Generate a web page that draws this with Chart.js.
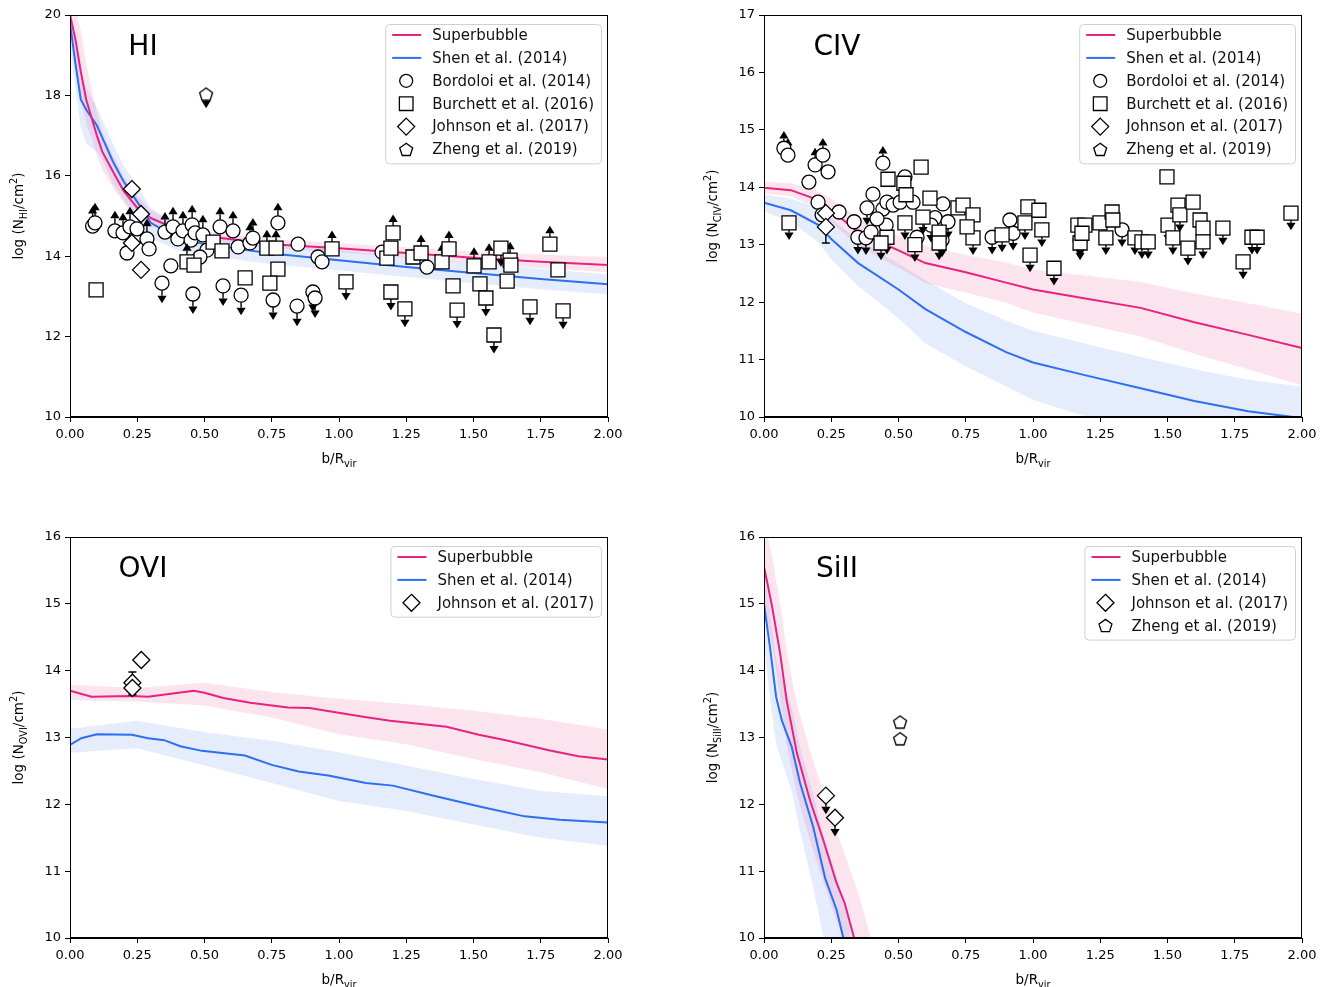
<!DOCTYPE html>
<html><head><meta charset="utf-8">
<script src="https://cdn.jsdelivr.net/npm/chart.js@4.4.1/dist/chart.umd.min.js"></script>
<style>
html,body{margin:0;padding:0;background:#fff;overflow:hidden}
body{width:1322px;height:987px;position:relative}
canvas{position:absolute}
</style></head>
<body>
<canvas id="cHI" width="640" height="480" style="left:0;top:0"></canvas>
<canvas id="cCIV" width="628" height="480" style="left:694px;top:0"></canvas>
<canvas id="cOVI" width="640" height="465" style="left:0;top:522px"></canvas>
<canvas id="cSiII" width="628" height="465" style="left:694px;top:522px"></canvas>
<script>
// ================= DATA =================
const xTickValues = [0, 0.25, 0.5, 0.75, 1.0, 1.25, 1.5, 1.75, 2.0];
const labelSB = 'Superbubble';
const labelShen = 'Shen et al. (2014)';
const labelBord = 'Bordoloi et al. (2014)';
const labelBurch = 'Burchett et al. (2016)';
const labelJohn = 'Johnson et al. (2017)';
const labelZheng = 'Zheng et al. (2019)';

// ---- HI ----
const HI_modelX = [0,0.02,0.04,0.06,0.08,0.1,0.12,0.16,0.2,0.25,0.3,0.4,0.5,0.75,1.0,1.25,1.5,1.75,2.0];
const HI_sbY  = [20.0,19.4,18.6,17.9,17.45,17.0,16.6,16.1,15.62,15.2,14.95,14.66,14.5,14.3,14.2,14.08,13.96,13.86,13.78];
const HI_sbHi = [20.5,20.2,19.6,18.8,18.15,17.6,17.1,16.5,15.97,15.5,15.15,14.81,14.62,14.42,14.32,14.22,14.12,14.04,13.98];
const HI_sbLo = [19.7,18.8,17.9,17.3,16.95,16.5,16.15,15.7,15.32,14.95,14.75,14.54,14.4,14.2,14.1,13.96,13.82,13.7,13.6];
const HI_shY  = [19.8,18.8,17.9,17.65,17.45,17.25,16.95,16.35,15.85,15.35,14.83,14.45,14.3,14.07,13.9,13.73,13.58,13.43,13.3];
const HI_shHi = [20.3,19.4,18.5,18.2,17.95,17.7,17.4,16.8,16.25,15.75,15.2,14.75,14.58,14.33,14.15,13.98,13.83,13.68,13.55];
const HI_shLo = [19.2,18.2,17.2,16.8,16.7,16.6,16.4,15.8,15.4,14.9,14.45,14.15,14.02,13.8,13.65,13.48,13.33,13.18,13.05];

const HI_bordX = [0.084,0.093,0.167,0.197,0.223,0.249,0.212,0.286,0.294,0.353,0.383,0.401,0.420,0.450,0.454,0.465,0.494,0.509,0.558,0.606,0.625,0.669,0.680,0.375,0.342,0.457,0.569,0.636,0.483,0.773,0.848,0.922,0.937,1.160,0.755,0.844,0.903,0.911,1.327];
const HI_bordY = [14.75,14.83,14.63,14.58,14.73,14.68,14.08,14.43,14.18,14.60,14.73,14.43,14.63,14.40,14.78,14.58,14.53,14.15,14.73,14.63,14.23,14.33,14.45,13.76,13.33,13.06,13.26,13.03,13.98,14.83,14.30,13.98,13.86,14.10,12.91,12.76,13.11,12.96,13.73];
const HI_bordLim = [1,1,1,1,1,0,0,1,0,1,1,0,1,1,1,0,1,0,1,1,0,1,1,0,-1,-1,-1,-1,0,1,0,0,0,0,-1,-1,-1,-1,0];

const HI_burchX = [0.097,0.532,0.565,0.435,0.461,0.651,0.732,0.766,0.773,0.743,0.974,1.026,1.178,1.201,1.193,1.193,1.245,1.275,1.305,1.383,1.409,1.424,1.439,1.502,1.524,1.546,1.558,1.602,1.636,1.639,1.625,1.576,1.710,1.784,1.814,1.833];
const HI_burchY = [13.16,14.35,14.13,13.86,13.78,13.46,14.20,14.20,13.68,13.33,14.18,13.36,13.95,14.58,14.20,13.11,12.69,13.98,14.08,13.86,14.18,13.26,12.66,13.76,13.31,12.96,13.86,14.20,13.90,13.78,13.38,12.04,12.74,14.30,13.66,12.64];
const HI_burchLim = [0,0,0,1,0,0,1,1,0,0,1,-1,0,1,0,-1,-1,0,1,1,1,0,-1,1,0,-1,1,-1,1,0,0,-1,-1,1,0,-1];

const HI_johnX = [0.230,0.264,0.230,0.264];
const HI_johnY = [15.67,15.05,14.33,13.66];
const HI_zhengX = [0.506];
const HI_zhengY = [18.03];
const HI_zhengLim = [-1];

// ---- CIV ----
const CIV_modelX = [0,0.1,0.2,0.25,0.35,0.5,0.6,0.75,0.9,1.0,1.2,1.4,1.6,1.8,2.0];
const CIV_sbY  = [13.99,13.95,13.78,13.6,13.22,12.9,12.68,12.52,12.34,12.22,12.06,11.9,11.65,11.43,11.2];
const CIV_sbHi = [14.09,14.07,13.93,13.8,13.47,13.15,12.98,12.82,12.69,12.57,12.46,12.35,12.15,11.98,11.8];
const CIV_sbLo = [13.89,13.85,13.63,13.4,12.97,12.6,12.33,12.17,11.99,11.82,11.61,11.4,11.1,10.83,10.55];
const CIV_shY  = [13.73,13.6,13.35,13.1,12.68,12.22,11.88,11.48,11.13,10.95,10.72,10.5,10.28,10.1,9.98];
const CIV_shHi = [13.88,13.8,13.65,13.45,13.08,12.67,12.38,11.98,11.68,11.5,11.27,11.05,10.83,10.65,10.53];
const CIV_shLo = [13.58,13.4,13.05,12.75,12.28,11.72,11.28,10.88,10.53,10.3,10.0,9.8,9.6,9.4,9.3];

const CIV_bordX = [0.074,0.089,0.167,0.190,0.219,0.238,0.201,0.216,0.279,0.335,0.349,0.379,0.398,0.405,0.383,0.442,0.442,0.457,0.454,0.480,0.506,0.524,0.554,0.569,0.636,0.665,0.684,0.621,0.848,0.914,0.926,1.331,1.175,0.662,0.420];
const CIV_bordY = [14.68,14.56,14.09,14.39,14.56,14.27,13.74,13.52,13.57,13.40,13.13,13.12,13.22,13.88,13.64,14.42,13.62,13.74,13.34,13.69,13.74,14.18,13.74,13.13,13.47,13.71,13.40,13.34,13.13,13.43,13.20,13.26,13.08,13.08,13.45];
const CIV_bordLim = [1,1,0,1,1,0,0,0,0,0,-1,-1,0,0,-1,1,0,0,0,0,0,0,0,0,0,0,-1,-1,-1,0,-1,-1,-1,-1,0];

const CIV_burchX = [0.093,0.461,0.520,0.528,0.584,0.617,0.591,0.524,0.457,0.435,0.561,0.651,0.651,0.721,0.740,0.777,0.777,0.755,0.885,0.970,0.981,1.022,1.033,0.989,1.078,1.167,1.193,1.175,1.182,1.249,1.294,1.297,1.271,1.379,1.405,1.428,1.502,1.520,1.498,1.539,1.546,1.595,1.621,1.632,1.632,1.576,1.706,1.814,1.833,1.781,1.959];
const CIV_burchY = [13.38,14.14,14.07,13.87,14.35,13.81,13.48,13.38,13.13,13.03,13.00,13.22,13.03,13.64,13.69,13.52,13.12,13.31,13.17,13.38,13.66,13.60,13.26,12.82,12.59,13.34,13.34,13.03,13.20,13.38,13.57,13.43,13.12,13.12,13.05,13.05,13.34,13.12,14.18,13.69,13.52,13.74,13.43,13.29,13.05,12.94,13.29,13.13,13.13,12.70,13.55];
const CIV_burchLim = [-1,0,0,0,0,0,-1,-1,-1,-1,-1,0,-1,0,0,0,-1,0,-1,-1,0,0,-1,-1,-1,-1,0,-1,-1,0,0,0,-1,-1,-1,-1,-1,-1,0,0,-1,0,0,-1,-1,-1,-1,-1,-1,-1,-1];

const CIV_johnX = [0.230,0.230];
const CIV_johnY = [13.55,13.31];
const CIV_johnErrLo = [null,13.03];
const CIV_johnErrHi = [null,13.31];

// ---- OVI ----
const OVI_sbX = [0,0.08,0.23,0.29,0.46,0.50,0.57,0.67,0.81,0.89,1.09,1.19,1.40,1.52,1.62,1.78,1.89,2.0];
const OVI_sbY = [13.70,13.61,13.62,13.61,13.70,13.67,13.59,13.52,13.45,13.44,13.31,13.25,13.16,13.04,12.96,12.81,12.72,12.67];
const OVI_shX = [0,0.042,0.10,0.23,0.29,0.35,0.41,0.49,0.65,0.75,0.85,0.96,1.10,1.20,1.36,1.53,1.69,1.82,2.0];
const OVI_shY = [12.89,12.99,13.05,13.04,12.99,12.96,12.87,12.80,12.73,12.59,12.49,12.43,12.32,12.28,12.12,11.96,11.82,11.77,11.73];
const OVI_bandX = [0,0.25,0.5,0.75,1.0,1.25,1.5,1.75,2.0];
const OVI_sbHi = [13.79,13.74,13.82,13.68,13.58,13.5,13.4,13.28,13.12];
const OVI_sbLo = [13.56,13.54,13.48,13.3,13.05,12.9,12.68,12.48,12.23];
const OVI_shHi = [13.13,13.25,13.08,12.95,12.78,12.58,12.38,12.2,12.12];
const OVI_shLo = [12.77,12.84,12.58,12.32,12.05,11.9,11.7,11.5,11.38];
const OVI_johnX = [0.232,0.232,0.265];
const OVI_johnY = [13.82,13.74,14.16];
const OVI_johnErrLo = [13.64,null,null];
const OVI_johnErrHi = [13.98,null,null];

// ---- SiII ----
const SiII_sbX  = [0,0.03,0.06,0.084,0.122,0.171,0.22,0.27,0.30,0.335,0.36];
const SiII_sbY  = [15.56,14.96,14.26,13.56,12.77,12.06,11.47,10.82,10.52,10.0,9.6];
const SiII_sbBandX = [0,0.03,0.06,0.084,0.122,0.171,0.22,0.27,0.30,0.335,0.36,0.40,0.42];
const SiII_sbHi = [16.3,15.7,15.0,14.3,13.5,12.8,12.2,11.6,11.25,10.85,10.55,9.95,9.7];
const SiII_sbLo = [15.0,14.4,13.6,12.9,12.15,11.45,10.85,10.25,9.95,9.45,9.0,8.5,8.3];
const SiII_shX  = [0,0.022,0.045,0.066,0.103,0.134,0.183,0.227,0.27,0.295,0.32];
const SiII_shY  = [15.0,14.36,13.61,13.26,12.86,12.32,11.66,10.9,10.42,10.0,9.6];
const SiII_shHi = [15.5,14.9,14.2,13.9,13.45,12.85,12.15,11.45,10.95,10.55,10.15];
const SiII_shLo = [14.4,13.6,12.9,12.65,12.2,11.6,10.75,9.9,9.5,9.2,8.9];
const SiII_johnX = [0.230,0.264];
const SiII_johnY = [12.13,11.80];
const SiII_johnLim = [-1,-1];
const SiII_zhengX = [0.506,0.506];
const SiII_zhengY = [13.23,12.98];

// ================= STYLE / HELPERS =================
const PINK = '#e6237f';
const BLUE = '#2d6ff0';
const PINK_BAND = 'rgba(230,35,127,0.12)';
const BLUE_BAND = 'rgba(45,111,240,0.12)';
const FONT = '"DejaVu Sans", Verdana, sans-serif';

function pts(xs, ys){ return xs.map((x,i)=>({x:x, y:ys[i]})); }

function pentPath(g,cx,cy,r){
  g.beginPath();
  for(let i=0;i<5;i++){
    const a=-Math.PI/2+i*2*Math.PI/5;
    const px=cx+r*Math.cos(a), py=cy+r*Math.sin(a);
    if(i) g.lineTo(px,py); else g.moveTo(px,py);
  }
  g.closePath();
}
function makePentagon(r){
  const c=document.createElement('canvas'); const s=Math.ceil(2*r+4);
  c.width=s; c.height=s; const g=c.getContext('2d');
  pentPath(g,s/2,s/2+0.5,r); g.fillStyle='#fff'; g.fill(); g.lineWidth=1.3; g.strokeStyle='#000'; g.stroke();
  return c;
}
const PENT_IMG = makePentagon(6.8);

const SHAPES = {
  circle: {pointStyle:'circle', pointRadius:7},
  rect: {pointStyle:'rect', pointRadius:9.9},
  diamond: {pointStyle:'rectRot', pointRadius:8.5},
  pentagon: {pointStyle:PENT_IMG, pointRadius:7}
};

function scatterDS(label, shape, xs, ys, extra){
  return Object.assign({
    type:'scatter', label:label, data:pts(xs,ys), showLine:false,
    pointStyle:SHAPES[shape].pointStyle, pointRadius:SHAPES[shape].pointRadius,
    pointBackgroundColor:'#fff', pointBorderColor:'#000', pointBorderWidth:1.3,
    pointHoverRadius:SHAPES[shape].pointRadius
  }, extra||{});
}
function lineDS(label, color, xs, ys, order){
  return {type:'line', label:label, data:pts(xs,ys), borderColor:color, borderWidth:2,
    pointRadius:0, fill:false, tension:0, order:order};
}
function bandDS(xs, his, los, color, order){
  return [
    {type:'line', label:'', data:pts(xs,his), borderWidth:0, borderColor:'rgba(0,0,0,0)', pointRadius:0, backgroundColor:color, fill:'+1', tension:0, order:order},
    {type:'line', label:'', data:pts(xs,los), borderWidth:0, borderColor:'rgba(0,0,0,0)', pointRadius:0, fill:false, tension:0, order:order}
  ];
}

function drawShape(ctx, shape, x, y){
  ctx.save();
  ctx.fillStyle='#fff'; ctx.strokeStyle='#000'; ctx.lineWidth=1.3;
  ctx.beginPath();
  if(shape==='circle'){ ctx.arc(x,y,6.5,0,Math.PI*2); }
  else if(shape==='rect'){ ctx.rect(x-6.8,y-6.8,13.6,13.6); }
  else if(shape==='diamond'){ ctx.moveTo(x,y-8.5); ctx.lineTo(x+8.5,y); ctx.lineTo(x,y+8.5); ctx.lineTo(x-8.5,y); ctx.closePath(); }
  else if(shape==='pentagon'){ pentPath(ctx,x,y+0.5,6.8); }
  ctx.fill(); ctx.stroke();
  ctx.restore();
}

function drawRich(ctx, parts, size){
  const small = size*0.72;
  const ws = parts.map(p=>{ ctx.font = ((p.sub||p.sup)?small:size)+'px '+FONT; return ctx.measureText(p.t).width; });
  const W = ws.reduce((a,b)=>a+b,0);
  let x = -W/2;
  ctx.textAlign='left'; ctx.textBaseline='alphabetic'; ctx.fillStyle='#000';
  const base = size*0.36;
  parts.forEach((p,i)=>{
    ctx.font = ((p.sub||p.sup)?small:size)+'px '+FONT;
    const dy = p.sub ? size*0.28 : (p.sup ? -size*0.42 : 0);
    ctx.fillText(p.t, x, base+dy);
    x += ws[i];
  });
}

const panelPlugin = {
  id:'panel',
  beforeDatasetDraw(chart, args){
    const ds = chart.data.datasets[args.index];
    if(!ds.lims && !ds.errLo) return;
    const ctx = chart.ctx, ys = chart.scales.y, meta = args.meta, a = chart.chartArea;
    ctx.save();
    ctx.beginPath(); ctx.rect(a.left,a.top,a.right-a.left,a.bottom-a.top); ctx.clip();
    ctx.strokeStyle='#000'; ctx.fillStyle='#000'; ctx.lineWidth=1.4;
    ds.data.forEach((d,i)=>{
      const el = meta.data[i]; if(!el) return;
      const px = el.x, py = el.y;
      const lim = ds.lims ? (ds.lims[i]||0) : 0;
      if(lim){
        const tip = ys.getPixelForValue(d.y + lim*ds.arrowLen);
        const s = lim>0 ? 1 : -1;
        const baseY = tip + s*7.5;
        ctx.beginPath(); ctx.moveTo(px,py); ctx.lineTo(px,baseY); ctx.stroke();
        ctx.beginPath(); ctx.moveTo(px,tip); ctx.lineTo(px-4.6,baseY); ctx.lineTo(px+4.6,baseY); ctx.closePath(); ctx.fill();
      }
      if(ds.errLo && ds.errLo[i]!=null){
        const lo = ys.getPixelForValue(ds.errLo[i]), hi = ys.getPixelForValue(ds.errHi[i]);
        ctx.beginPath(); ctx.moveTo(px,lo); ctx.lineTo(px,hi);
        ctx.moveTo(px-4,lo); ctx.lineTo(px+4,lo); ctx.moveTo(px-4,hi); ctx.lineTo(px+4,hi); ctx.stroke();
      }
    });
    ctx.restore();
  },
  afterDraw(chart){
    const o = chart.options.plugins.panel;
    const ctx = chart.ctx, a = chart.chartArea;
    ctx.save();
    // spines
    ctx.strokeStyle='#000'; ctx.lineWidth=1;
    ctx.strokeRect(Math.round(a.left)+0.5, Math.round(a.top)+0.5, Math.round(a.right-a.left)-1, Math.round(a.bottom-a.top)-1);
    // panel title
    ctx.fillStyle='#000'; ctx.font='28px '+FONT; ctx.textAlign='center'; ctx.textBaseline='middle';
    ctx.fillText(o.title, a.left+73, a.top+33);
    // y title
    ctx.save(); ctx.translate(a.left-52, (a.top+a.bottom)/2); ctx.rotate(-Math.PI/2);
    drawRich(ctx, [{t:'log (N'},{t:o.ysub,sub:true},{t:'/cm'},{t:'2',sup:true},{t:')'}], 13.5);
    ctx.restore();
    // x title
    ctx.save(); ctx.translate((a.left+a.right)/2, a.bottom+41);
    drawRich(ctx, [{t:'b/R'},{t:'vir',sub:true}], 13.5);
    ctx.restore();
    // legend
    const items = o.legend;
    ctx.font='15px '+FONT;
    const maxW = Math.max.apply(null, items.map(it=>ctx.measureText(it.label).width));
    const rowH = 22.9;
    const w = 47 + maxW + 7, h = items.length*rowH + 2;
    const right = a.right - 7, left = right - w, top = a.top + 9;
    ctx.beginPath();
    if(ctx.roundRect) ctx.roundRect(left+0.5, top+0.5, w, h, 4); else ctx.rect(left+0.5, top+0.5, w, h);
    ctx.fillStyle='rgba(255,255,255,0.85)'; ctx.fill();
    ctx.strokeStyle='#d0d0d0'; ctx.lineWidth=1; ctx.stroke();
    items.forEach((it,i)=>{
      const cy = top + 11 + i*rowH;
      if(it.kind==='line'){
        ctx.strokeStyle=it.color; ctx.lineWidth=2;
        ctx.beginPath(); ctx.moveTo(left+7, cy); ctx.lineTo(left+36, cy); ctx.stroke();
      } else {
        drawShape(ctx, it.kind, left+21, cy);
      }
      ctx.fillStyle='#111'; ctx.font='15px '+FONT; ctx.textAlign='left'; ctx.textBaseline='middle';
      ctx.fillText(it.label, left+47, cy+1);
    });
    ctx.restore();
  }
};

function axes(ymin, ymax, ystep, xh){
  const tickFont = {family:FONT, size:13};
  return {
    x:{type:'linear', min:0, max:2,
      afterBuildTicks(s){ s.ticks = xTickValues.map(v=>({value:v})); },
      afterFit(s){ s.height = xh; },
      ticks:{callback:v=>Number(v).toFixed(2), font:tickFont, color:'#000', padding:5, maxRotation:0, autoSkip:false},
      grid:{drawOnChartArea:false, drawTicks:true, tickLength:5, color:'#000', lineWidth:1},
      border:{color:'#000', width:1}},
    y:{type:'linear', min:ymin, max:ymax,
      afterFit(s){ s.width = 70; },
      ticks:{stepSize:ystep, callback:v=>String(v), font:tickFont, color:'#000', padding:4},
      grid:{drawOnChartArea:false, drawTicks:true, tickLength:5, color:'#000', lineWidth:1},
      border:{color:'#000', width:1}}
  };
}

function makeChart(id, datasets, ymin, ymax, ystep, xh, padRight, panelOpts){
  return new Chart(document.getElementById(id), {
    type:'scatter',
    data:{datasets:datasets},
    options:{
      responsive:false, animation:false, events:[],
      layout:{padding:{left:0, right:padRight, top:15, bottom:0}},
      scales:axes(ymin,ymax,ystep,xh),
      plugins:{legend:{display:false}, tooltip:{enabled:false}, panel:panelOpts}
    },
    plugins:[panelPlugin]
  });
}

const LEG_SB = {kind:'line', color:PINK, label:labelSB};
const LEG_SH = {kind:'line', color:BLUE, label:labelShen};
const LEG_BO = {kind:'circle', label:labelBord};
const LEG_BU = {kind:'rect', label:labelBurch};
const LEG_JO = {kind:'diamond', label:labelJohn};
const LEG_ZH = {kind:'pentagon', label:labelZheng};

// ---- HI chart ----
makeChart('cHI', [
  scatterDS(labelZheng,'pentagon',HI_zhengX,HI_zhengY,{lims:HI_zhengLim, arrowLen:0.35, order:0}),
  scatterDS(labelJohn,'diamond',HI_johnX,HI_johnY,{order:1}),
  scatterDS(labelBurch,'rect',HI_burchX,HI_burchY,{lims:HI_burchLim, arrowLen:0.46, order:2}),
  scatterDS(labelBord,'circle',HI_bordX,HI_bordY,{lims:HI_bordLim, arrowLen:0.5, order:3}),
  lineDS(labelShen, BLUE, HI_modelX, HI_shY, 10),
  lineDS(labelSB, PINK, HI_modelX, HI_sbY, 9),
  ...bandDS(HI_modelX, HI_sbHi, HI_sbLo, PINK_BAND, 20),
  ...bandDS(HI_modelX, HI_shHi, HI_shLo, BLUE_BAND, 21)
], 10, 20, 2, 63, 32, {title:'HI', ysub:'HI', legend:[LEG_SB,LEG_SH,LEG_BO,LEG_BU,LEG_JO,LEG_ZH]});

// ---- CIV chart ----
makeChart('cCIV', [
  scatterDS(labelJohn,'diamond',CIV_johnX,CIV_johnY,{errLo:CIV_johnErrLo, errHi:CIV_johnErrHi, order:1}),
  scatterDS(labelBurch,'rect',CIV_burchX,CIV_burchY,{lims:CIV_burchLim, arrowLen:0.3, order:2}),
  scatterDS(labelBord,'circle',CIV_bordX,CIV_bordY,{lims:CIV_bordLim, arrowLen:0.3, order:3}),
  lineDS(labelShen, BLUE, CIV_modelX, CIV_shY, 10),
  lineDS(labelSB, PINK, CIV_modelX, CIV_sbY, 9),
  ...bandDS(CIV_modelX, CIV_sbHi, CIV_sbLo, PINK_BAND, 20),
  ...bandDS(CIV_modelX, CIV_shHi, CIV_shLo, BLUE_BAND, 21)
], 10, 17, 1, 63, 20, {title:'CIV', ysub:'CIV', legend:[LEG_SB,LEG_SH,LEG_BO,LEG_BU,LEG_JO,LEG_ZH]});

// ---- OVI chart ----
makeChart('cOVI', [
  scatterDS(labelJohn,'diamond',OVI_johnX,OVI_johnY,{errLo:OVI_johnErrLo, errHi:OVI_johnErrHi, order:1}),
  lineDS(labelShen, BLUE, OVI_shX, OVI_shY, 10),
  lineDS(labelSB, PINK, OVI_sbX, OVI_sbY, 9),
  ...bandDS(OVI_bandX, OVI_sbHi, OVI_sbLo, PINK_BAND, 20),
  ...bandDS(OVI_bandX, OVI_shHi, OVI_shLo, BLUE_BAND, 21)
], 10, 16, 1, 49, 32, {title:'OVI', ysub:'OVI', legend:[LEG_SB,LEG_SH,LEG_JO]});

// ---- SiII chart ----
makeChart('cSiII', [
  scatterDS(labelZheng,'pentagon',SiII_zhengX,SiII_zhengY,{order:0}),
  scatterDS(labelJohn,'diamond',SiII_johnX,SiII_johnY,{lims:SiII_johnLim, arrowLen:0.28, order:1}),
  lineDS(labelShen, BLUE, SiII_shX, SiII_shY, 10),
  lineDS(labelSB, PINK, SiII_sbX, SiII_sbY, 9),
  ...bandDS(SiII_sbBandX, SiII_sbHi, SiII_sbLo, PINK_BAND, 20),
  ...bandDS(SiII_shX, SiII_shHi, SiII_shLo, BLUE_BAND, 21)
], 10, 16, 1, 49, 20, {title:'SiII', ysub:'SiII', legend:[LEG_SB,LEG_SH,LEG_JO,LEG_ZH]});
</script>
</body></html>
